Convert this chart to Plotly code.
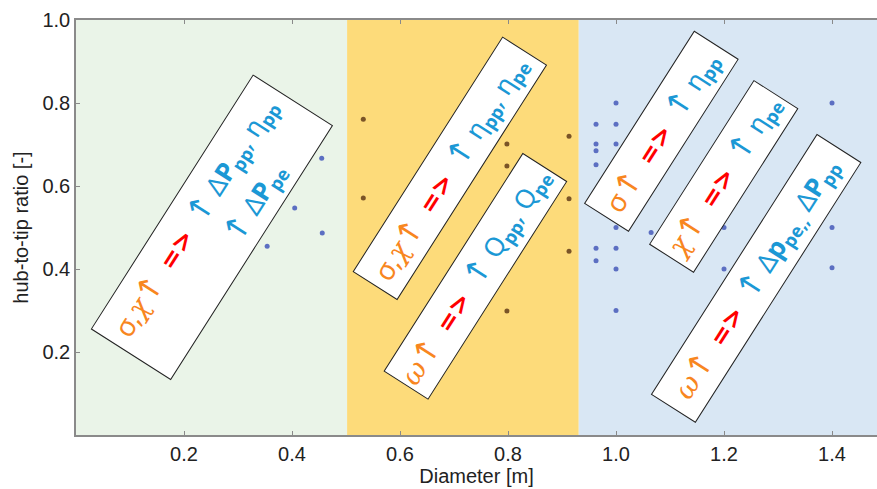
import math
import plotly.graph_objects as go

# Machine data: rotor diameter [m] vs hub-to-tip ratio [-], grouped by size class
small_diam = [0.354, 0.405, 0.455, 0.456]
small_hub = [0.455, 0.547, 0.667, 0.487]

medium_diam = [0.532, 0.532, 0.798, 0.798, 0.798, 0.913, 0.913, 0.913]
medium_hub = [0.761, 0.571, 0.701, 0.648, 0.299, 0.720, 0.569, 0.443]

large_diam = [1.0, 0.963, 1.0, 0.963, 0.963, 1.0, 0.963, 1.4, 1.0, 1.065,
              1.2, 1.4, 0.963, 1.0, 0.963, 1.0, 1.2, 1.4, 1.0]
large_hub = [0.8, 0.749, 0.749, 0.701, 0.685, 0.701, 0.651, 0.8, 0.5, 0.488,
             0.5, 0.5, 0.45, 0.45, 0.42, 0.4, 0.4, 0.403, 0.3]

# Diameter bands for the three size classes
band_edges = [0.0, 0.502, 0.931, 1.6]
band_colors = ["#eaf4e8", "#fddb7a", "#d9e7f4"]

x_ticks = [0.2, 0.4, 0.6, 0.8, 1.0, 1.2, 1.4]
y_ticks = [0.2, 0.4, 0.6, 0.8, 1.0]

ORANGE = "#f8861f"
RED = "#ff0000"
BLUE = "#1b98d5"
ANGLE = 57.5

W, H = 877, 489
ML, MR, MT, MB = 76, 0, 20, 54
X_RANGE = [0.0, 1.4833]
Y_RANGE = [0.0, 1.0]

fig = go.Figure()

for i in range(3):
    fig.add_shape(type="rect", xref="x", yref="paper",
                  x0=band_edges[i], x1=band_edges[i + 1], y0=0, y1=1,
                  fillcolor=band_colors[i], line_width=0, layer="below")

fig.add_trace(go.Scatter(x=small_diam, y=small_hub, mode="markers",
                         marker=dict(size=5, color="#5c6fc2"), showlegend=False))
fig.add_trace(go.Scatter(x=medium_diam, y=medium_hub, mode="markers",
                         marker=dict(size=5, color="#7a5427"), showlegend=False))
fig.add_trace(go.Scatter(x=large_diam, y=large_hub, mode="markers",
                         marker=dict(size=5, color="#5c6fc2"), showlegend=False))

NB = "\u00a0"
UP = '<span style="font-family:DejaVu Sans;font-size:31px">↑</span>'


def curly(s):
    return f'<span style="font-family:DejaVu Serif;font-style:italic">{s}</span>'


def o(s):
    return f'<span style="color:{ORANGE};font-size:28px">{s}</span>'


def b(s):
    return f'<span style="color:{BLUE}">{s}</span>'


ARROW = (f'<span style="color:{RED};font-family:DejaVu Sans;font-size:25px">'
         f'<b>=&gt;</b></span>')
DP = "Δ<b>P</b>"


def sub(s):
    return f"<sub><b>{s}</b></sub>"


SIGMA_CHI = "σ," + curly("χ")
GAP = NB * 2

# Rotated boxes: centre (data coords), box length/height (px), text lines (u, v offsets px)
boxes = [
    dict(cx=0.2514, cy=0.500, L=302, S=95, lines=[
        (0, 19, o(SIGMA_CHI + UP) + GAP + ARROW + GAP +
         b(f"{UP} {DP}{sub('pp')}, η{sub('pp')}")),
        (44, -23, b(f"{UP} {DP}{sub('pe')}")),
    ]),
    dict(cx=0.6926, cy=0.641, L=279, S=53, lines=[
        (0, 0, o(SIGMA_CHI + UP) + GAP + ARROW + GAP +
         b(f"{UP} η{sub('pp')}, η{sub('pe')}")),
    ]),
    dict(cx=0.7394, cy=0.382, L=259, S=53, lines=[
        (0, 0, o(curly("ω") + UP) + GAP + ARROW + GAP +
         b(f"{UP} Q{sub('pp')}, Q{sub('pe')}")),
    ]),
    dict(cx=1.0838, cy=0.7313, L=205, S=53, lines=[
        (0, 0, o("σ" + UP) + GAP + ARROW + GAP + b(f"{UP} η{sub('pp')}")),
    ]),
    dict(cx=1.1991, cy=0.6235, L=195, S=53, lines=[
        (0, 0, o(curly("χ") + UP) + GAP + ARROW + GAP + b(f"{UP} η{sub('pe')}")),
    ]),
    dict(cx=1.2597, cy=0.3765, L=309, S=53, lines=[
        (0, 0, o(curly("ω") + UP) + GAP + ARROW + GAP +
         b(f"{UP} Δ<b>p</b>{sub('pe,,')} {DP}{sub('pp')}")),
    ]),
]

ca, sa = math.cos(math.radians(ANGLE)), math.sin(math.radians(ANGLE))

annotations = []
for bx in boxes:
    annotations.append(dict(
        x=bx["cx"], y=bx["cy"], xref="x", yref="y", text=NB, showarrow=False,
        width=bx["L"] - 2, height=bx["S"] - 2, borderpad=0,
        bgcolor="white", bordercolor="#222222", borderwidth=1,
        textangle=-ANGLE, xanchor="center", yanchor="middle"))
    for u, v, txt in bx["lines"]:
        annotations.append(dict(
            x=bx["cx"], y=bx["cy"], xref="x", yref="y", text=txt, showarrow=False,
            xshift=u * ca - v * sa, yshift=u * sa + v * ca,
            textangle=-ANGLE, xanchor="center", yanchor="middle",
            font=dict(family="Noto Sans", size=26, color=BLUE)))

LABEL_FONT = dict(family="Liberation Sans", size=20, color="#222222")

axis_style = dict(showline=True, linecolor="#8a8a8a", linewidth=1.5,
                  ticks="inside", ticklen=4, tickcolor="#8a8a8a", showgrid=False,
                  zeroline=False, tickformat=".1f", tickfont=LABEL_FONT)

fig.update_layout(
    width=W, height=H, margin=dict(l=ML, r=MR, t=MT, b=MB),
    paper_bgcolor="white", plot_bgcolor="white",
    xaxis=dict(range=X_RANGE, tickvals=x_ticks, mirror="ticks", **axis_style,
               title=dict(text="Diameter [m]", standoff=4, font=LABEL_FONT)),
    yaxis=dict(range=Y_RANGE, tickvals=y_ticks, mirror=False, **axis_style,
               title=dict(text="hub-to-tip ratio [-]", standoff=8, font=LABEL_FONT)),
    annotations=annotations,
)

fig.write_html("out.html")
